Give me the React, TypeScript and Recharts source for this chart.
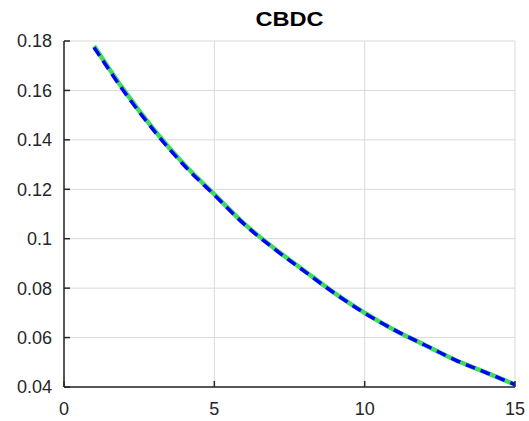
import React from "react";
import { LineChart, Line, XAxis, YAxis, CartesianGrid } from "recharts";

// Horizon (periods) and the two CBDC response paths
const periods = [1, 2, 3, 4, 5, 6, 7, 8, 9, 10, 11, 12, 13, 14, 15];
const greenPath = [0.178, 0.16, 0.144, 0.13, 0.118, 0.106, 0.096, 0.087, 0.078, 0.07, 0.063, 0.057, 0.051, 0.046, 0.041];
const bluePath = [0.1774, 0.1595, 0.1436, 0.1296, 0.1177, 0.1058, 0.0958, 0.0868, 0.0779, 0.0699, 0.063, 0.057, 0.051, 0.046, 0.041];

const xTicks = [0, 5, 10, 15];
const yTicks = [0.04, 0.06, 0.08, 0.1, 0.12, 0.14, 0.16, 0.18];

const rows = periods.map((p, i) => ({ t: p, green: greenPath[i], blue: bluePath[i] }));

const FONT = "'Liberation Sans', Arial, Helvetica, sans-serif";
const INK = "#262626";

export default function App() {
  return (
    <div style={{ position: "absolute", left: 0, top: 0, width: 529, height: 421, background: "#fff" }}>
      <div
        style={{
          position: "absolute",
          left: 64,
          width: 451,
          top: 7,
          textAlign: "center",
          fontFamily: FONT,
          fontWeight: "bold",
          fontSize: 20,
          color: "#000",
          lineHeight: "24px",
          transform: "scaleX(1.18)",
          transformOrigin: "center",
        }}
      >
        CBDC
      </div>
      <LineChart
        width={529}
        height={421}
        data={rows}
        margin={{ top: 41, right: 14, bottom: 0, left: 0 }}
      >
        <CartesianGrid stroke="#d9d9d9" strokeWidth={1} horizontalValues={yTicks} verticalValues={xTicks} />
        <XAxis
          dataKey="t"
          type="number"
          domain={[0, 15]}
          ticks={xTicks}
          height={34}
          tickSize={-6}
          tickMargin={21}
          stroke={INK}
          strokeWidth={1.5}
          tick={{ fill: INK, fontSize: 18, fontFamily: FONT }}
          allowDataOverflow
        />
        <YAxis
          type="number"
          domain={[0.04, 0.18]}
          ticks={yTicks}
          width={64}
          tickSize={-6}
          tickMargin={18}
          stroke={INK}
          strokeWidth={1.5}
          tickFormatter={(v: number) => String(Number(v.toFixed(2)))}
          tick={{ fill: INK, fontSize: 18, fontFamily: FONT }}
          allowDataOverflow
        />
        <Line
          type="monotone"
          dataKey="green"
          stroke="#3ddc5c"
          strokeWidth={4.5}
          dot={false}
          isAnimationActive={false}
        />
        <Line
          type="monotone"
          dataKey="blue"
          stroke="#0000ff"
          strokeWidth={3.5}
          strokeDasharray="10 6"
          dot={false}
          isAnimationActive={false}
        />
      </LineChart>
    </div>
  );
}
